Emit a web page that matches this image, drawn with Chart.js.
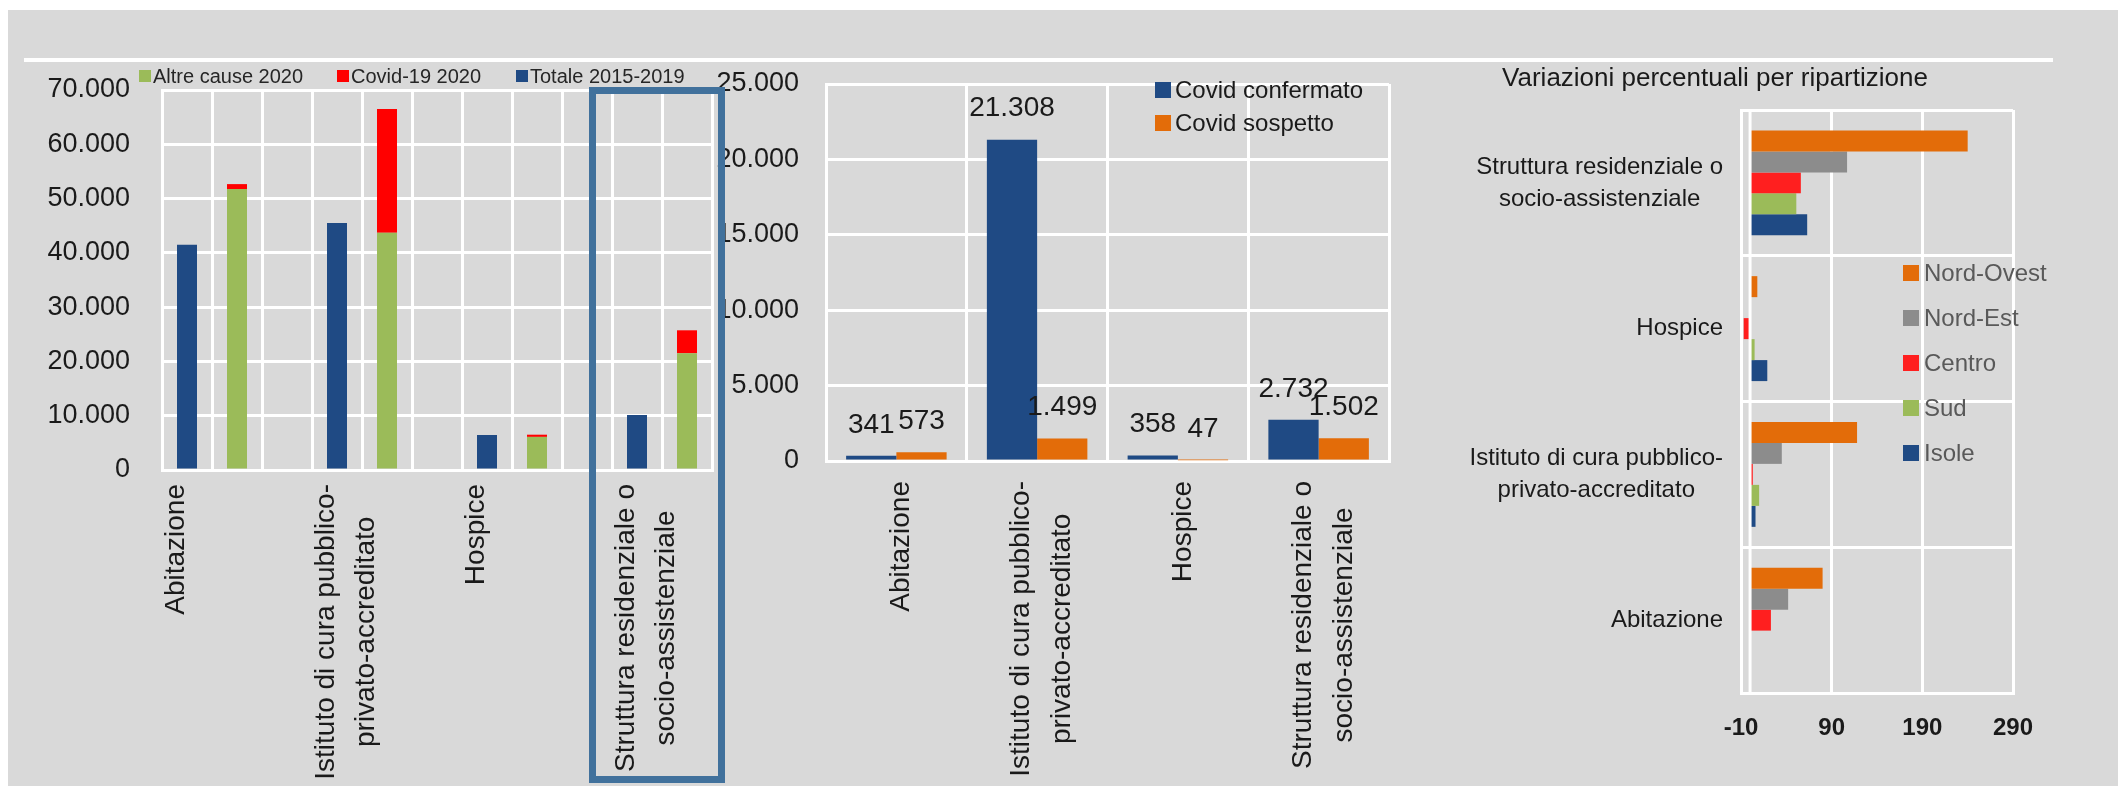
<!DOCTYPE html>
<html lang="it">
<head>
<meta charset="utf-8">
<title>Decessi per luogo</title>
<script src="https://cdn.jsdelivr.net/npm/chart.js@4.4.1/dist/chart.umd.min.js"></script>
<style>
html,body{margin:0;padding:0}
body{width:2118px;height:786px;position:relative;overflow:hidden;background:#fff}
#panel{position:absolute;left:8px;top:10px;width:2110px;height:776px;background:#d9d9d9}
#rule{position:absolute;left:24px;top:58px;width:2029px;height:4px;background:#fff}
canvas{position:absolute;top:0}
#c1{left:0}#c2{left:700px}#c3{left:1400px}
#box{position:absolute;left:589px;top:87px;width:136px;height:696px;border:7px solid #41719c;box-sizing:border-box}
</style>
</head>
<body>
<div id="panel"></div>
<div id="rule"></div>
<canvas id="c1" width="760" height="786"></canvas>
<canvas id="c2" width="720" height="786"></canvas>
<canvas id="c3" width="718" height="786"></canvas>
<div id="box"></div>
<script>
// luoghi del decesso
const places=['Abitazione','Istituto di cura pubblico-privato-accreditato','Hospice','Struttura residenziale o socio-assistenziale'];
const placeLines=[['Abitazione'],['Istituto di cura pubblico-','privato-accreditato'],['Hospice'],['Struttura residenziale o','socio-assistenziale']];

// grafico 1: decessi
const totale1519=[41500,45500,6450,10150];
const altreCause2020=[51750,43700,6100,21500];
const covid2020=[914,22807,405,4234];

// grafico 2: decessi covid
const covidConfermato=[341,21308,358,2732];
const covidSospetto=[573,1499,47,1502];

// grafico 3: variazioni % per ripartizione (ordine di places)
const ripartizioni=['Nord-Ovest','Nord-Est','Centro','Sud','Isole'];
const nordOvest=[80,118,8,240];
const nordEst=[42,35,0,107];
const centro=[23,3,-7,56];
const sud=[1,10,5,51];
const isole=[0,6,19,63];

const BLUE='#1f4a84',GREEN='#9bbb59',RED='#ff0000',ORANGE='#e36c09',GREY='#8c8c8c';
const TXT='#1a1a1a',GRID='#ffffff';

// font stretto se presente
const probe=document.createElement('canvas').getContext('2d');
probe.font="40px 'Liberation Sans Narrow', monospace";
const wn=probe.measureText('Struttura residenziale').width;
probe.font="40px monospace";
const wm=probe.measureText('Struttura residenziale').width;
const NARROW=Math.abs(wn-wm)>1;
const FAM=NARROW?"'Liberation Sans Narrow', sans-serif":"'Liberation Sans', Arial, sans-serif";
const px=n=>Math.round(NARROW?n:n*0.86);
Chart.defaults.font.family=FAM;
Chart.defaults.color=TXT;

const fmt=v=>String(v).replace(/\B(?=(\d{3})+(?!\d))/g,'.');

// etichette di categoria a righe centrate (come Excel)
// mode 'first': prima riga ancorata alla tacca, le altre a destra
function catLabels(axis,lines,at,size,gap,lh,dx,mode){
 return {id:'catLabels',afterDraw(chart){
  const ctx=chart.ctx,a=chart.chartArea,sc=chart.scales[axis];
  ctx.save();
  ctx.font=px(size)+'px '+FAM;ctx.fillStyle=TXT;ctx.textAlign='center';ctx.textBaseline='middle';
  lines.forEach((ls,i)=>{
   const p=sc.getPixelForValue(at[i]);
   const w=Math.max(...ls.map(t=>ctx.measureText(t).width));
   ls.forEach((t,j)=>{
    const off=dx+(mode==='first'?j:j-(ls.length-1)/2)*lh;
    ctx.save();
    if(axis==='x'){ctx.translate(p+off,a.bottom+gap+w/2);ctx.rotate(-Math.PI/2);}
    else ctx.translate(a.left-gap-w/2,p+off);
    ctx.fillText(t,0,0);
    ctx.restore();
   });
  });
  ctx.restore();
 }};
}

const barValues={id:'barValues',afterDatasetsDraw(chart){
 const ctx=chart.ctx;
 ctx.save();
 ctx.font=px(32)+'px '+FAM;ctx.fillStyle=TXT;ctx.textAlign='center';ctx.textBaseline='middle';
 chart.data.datasets.forEach((ds,i)=>{
  chart.getDatasetMeta(i).data.forEach((bar,j)=>ctx.fillText(fmt(ds.data[j]),bar.x,bar.y-31));
 });
 ctx.restore();
}};

const zeroLine={id:'zeroLine',afterDatasetsDraw(chart){
 const ctx=chart.ctx,a=chart.chartArea,x=chart.scales.x.getPixelForValue(0);
 ctx.save();ctx.strokeStyle=GRID;ctx.lineWidth=3;
 ctx.beginPath();ctx.moveTo(x,a.top);ctx.lineTo(x,a.bottom);ctx.stroke();
 ctx.restore();
}};

const grid={color:GRID,lineWidth:3,drawTicks:false};
const border={color:GRID,width:3};

// grafico 1: 11 posizioni, 3 per luogo (totale, 2020, vuota)
const SLOTS=11;
function spread(vals,off){const a=Array(SLOTS).fill(null);vals.forEach((v,i)=>a[i*3+off]=v);return a;}
const slotLabels=Array(SLOTS).fill('');
places.forEach((p,i)=>slotLabels[i*3]=p);

new Chart(document.getElementById('c1'),{
 type:'bar',
 data:{labels:slotLabels,datasets:[
  {label:'Totale 2015-2019',data:spread(totale1519,0),backgroundColor:BLUE},
  {label:'Altre cause 2020',data:spread(altreCause2020,1),backgroundColor:GREEN},
  {label:'Covid-19 2020',data:spread(covid2020,1),backgroundColor:RED}
 ]},
 options:{
  responsive:false,animation:false,
  layout:{padding:{top:90,right:48,left:0,bottom:0}},
  datasets:{bar:{categoryPercentage:0.8,barPercentage:0.5}},
  plugins:{legend:{display:false},tooltip:{enabled:false}},
  scales:{
   x:{stacked:true,grid:grid,border:border,ticks:{display:false},afterFit:s=>{s.height=316;}},
   y:{stacked:true,min:0,max:70000,grid:grid,border:border,
      ticks:{stepSize:10000,padding:32,color:TXT,font:{size:px(31)},callback:fmt},
      afterFit:s=>{s.width=162;}}
  }
 },
 plugins:[catLabels('x',placeLines,[0,3,6,9],32,14,40,-11,'first')]
});

new Chart(document.getElementById('c2'),{
 type:'bar',
 data:{labels:places,datasets:[
  {label:'Covid confermato',data:covidConfermato,backgroundColor:BLUE},
  {label:'Covid sospetto',data:covidSospetto,backgroundColor:ORANGE}
 ]},
 options:{
  responsive:false,animation:false,
  layout:{padding:{top:84,right:31,left:0,bottom:0}},
  datasets:{bar:{categoryPercentage:0.714,barPercentage:1}},
  plugins:{legend:{display:false},tooltip:{enabled:false}},
  scales:{
   x:{grid:grid,border:border,ticks:{display:false},afterFit:s=>{s.height=325;}},
   y:{min:0,max:25000,grid:grid,border:border,
      ticks:{stepSize:5000,padding:27,color:TXT,font:{size:px(31)},callback:fmt},
      afterFit:s=>{s.width=126;}}
  }
 },
 plugins:[barValues,catLabels('x',placeLines,[0,1,2,3],32,20,41,5,'center')]
});

const c3colors=[ORANGE,GREY,'#ff1f1f',GREEN,BLUE];
const c3series=[nordOvest,nordEst,centro,sud,isole];
new Chart(document.getElementById('c3'),{
 type:'bar',
 data:{labels:places,datasets:ripartizioni.map((r,k)=>({label:r,data:c3series[k],backgroundColor:c3colors[k]}))},
 options:{
  indexAxis:'y',responsive:false,animation:false,
  layout:{padding:{top:110,right:105,left:0,bottom:0}},
  datasets:{bar:{categoryPercentage:0.72,barPercentage:1}},
  plugins:{legend:{display:false},tooltip:{enabled:false}},
  scales:{
   y:{reverse:true,grid:grid,border:border,ticks:{display:false},afterFit:s=>{s.width=341;}},
   x:{min:-10,max:290,grid:grid,border:border,
      ticks:{stepSize:100,padding:35-0.6*px(28),color:TXT,font:{size:px(28),weight:'bold'}},
      afterFit:s=>{s.height=93;}}
  }
 },
 plugins:[zeroLine,catLabels('y',placeLines,[0,1,2,3],28,18,32,0,'center')]
});

// legende e titolo
function addText(txt,x,y,size,color,extra){
 const d=document.createElement('div');
 d.textContent=txt;
 d.style.cssText=`position:absolute;white-space:nowrap;font:${px(size)}px ${FAM};line-height:${px(size)*1.2}px;color:${color};left:${x}px;top:${y-px(size)*0.6}px;${extra||''}`;
 document.body.appendChild(d);
 return d;
}
function addLegend(items,sq,gap,size,color){
 items.forEach(it=>{
  const s=document.createElement('div');
  s.style.cssText=`position:absolute;left:${it.x}px;top:${it.y-sq/2}px;width:${sq}px;height:${sq}px;background:${it.c}`;
  document.body.appendChild(s);
  addText(it.t,it.x+sq+gap,it.y,size,color);
 });
}
addLegend([
 {t:'Altre cause 2020',c:GREEN,x:139,y:76},
 {t:'Covid-19 2020',c:RED,x:337,y:76},
 {t:'Totale 2015-2019',c:BLUE,x:516,y:76}
],12,2,23,'#262626');
addLegend([
 {t:'Covid confermato',c:BLUE,x:1155,y:90},
 {t:'Covid sospetto',c:ORANGE,x:1155,y:123}
],16,4,28,TXT);
addLegend(ripartizioni.map((r,k)=>({t:r,c:c3colors[k],x:1903,y:273+45*k})),16,5,28,'#595959');
addText('Variazioni percentuali per ripartizione',1715,78,30,TXT,'transform:translateX(-50%)');
</script>
</body>
</html>
